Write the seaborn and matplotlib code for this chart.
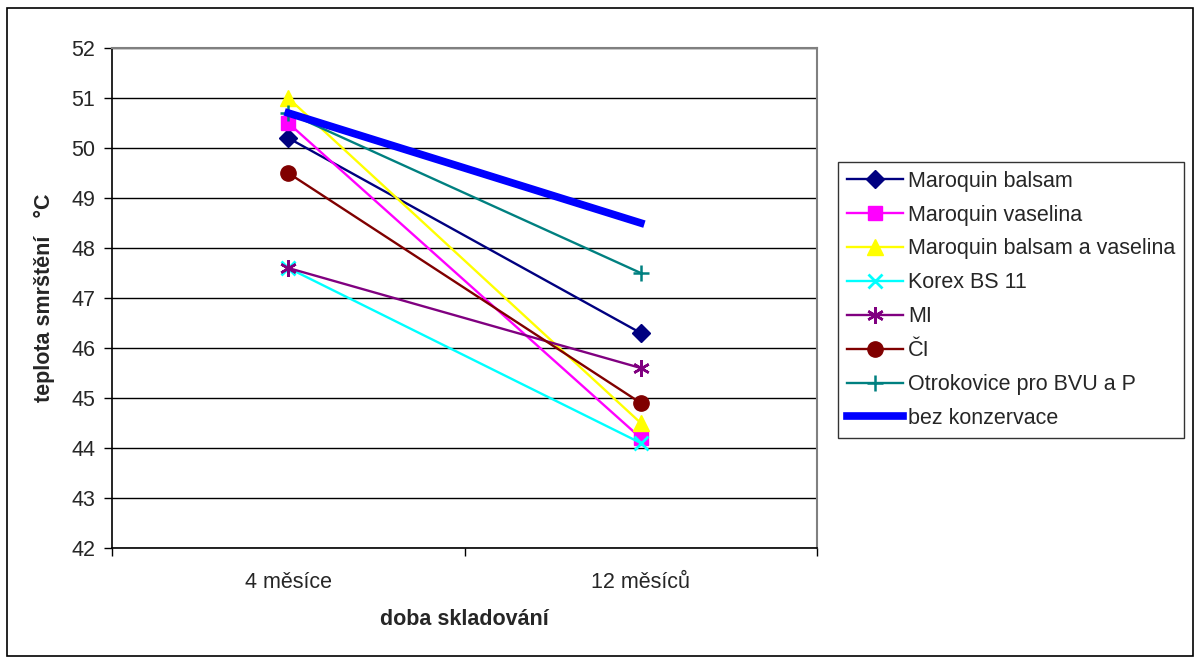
import matplotlib
matplotlib.use("Agg")
import matplotlib.pyplot as plt
from matplotlib.patches import Rectangle
import seaborn as sns
import pandas as pd

sns.set_style("white")
plt.rcParams["font.family"] = ["Liberation Sans", "DejaVu Sans"]

periods = ["4 měsíce", "12 měsíců"]
series_names = [
    "Maroquin balsam",
    "Maroquin vaselina",
    "Maroquin balsam a vaselina",
    "Korex BS 11",
    "MI",
    "ČI",
    "Otrokovice pro BVU a P",
    "bez konzervace",
]
maroquin_balsam = [50.2, 46.3]
maroquin_vaselina = [50.5, 44.2]
maroquin_balsam_vaselina = [51.0, 44.5]
korex_bs11 = [47.6, 44.1]
mi = [47.6, 45.6]
ci = [49.5, 44.9]
otrokovice = [50.7, 47.5]
bez_konzervace = [50.7, 48.5]

values = [maroquin_balsam, maroquin_vaselina, maroquin_balsam_vaselina,
          korex_bs11, mi, ci, otrokovice, bez_konzervace]

styles = [
    dict(color="#000080", marker="D", markersize=9, lw=1.7),
    dict(color="#FF00FF", marker="s", markersize=10, lw=1.7),
    dict(color="#FFFF00", marker="^", markersize=11, lw=1.7),
    dict(color="#00FFFF", marker="x", markersize=10, lw=1.7, mew=2.0),
    dict(color="#800080", marker=(6, 2, 0), markersize=12, lw=1.7, mew=1.8),
    dict(color="#800000", marker="o", markersize=11, lw=1.7),
    dict(color="#008080", marker="+", markersize=12, lw=1.7, mew=1.8),
    dict(color="#0000FF", marker=None, markersize=0, lw=5.5),
]

rows = []
for name, vals in zip(series_names, values):
    for i, v in enumerate(vals):
        rows.append({"serie": name, "pos": i, "teplota": v})
df = pd.DataFrame(rows)

FS = 15.5
W, H = 1195, 657
fig = plt.figure(figsize=(W / 100, H / 100), dpi=100)
ax = fig.add_axes([112 / W, (H - 548) / H, 705 / W, 500 / H])

for name, st in zip(series_names, styles):
    sub = df[df["serie"] == name]
    kw = dict(color=st["color"], linewidth=st["lw"], label=name, ax=ax,
              legend=False, zorder=3, solid_capstyle="projecting")
    if st["marker"] is not None:
        kw.update(marker=st["marker"], markersize=st["markersize"],
                  markeredgecolor=st["color"], markerfacecolor=st["color"],
                  markeredgewidth=st.get("mew", 1.0))
    sns.lineplot(data=sub, x="pos", y="teplota", **kw)

ax.set_xlim(-0.5, 1.5)
ax.set_ylim(42, 52)
ax.set_yticks(range(42, 53))
ax.set_yticklabels([str(v) for v in range(42, 53)], fontsize=FS)
ax.grid(axis="y", color="#000000", linewidth=1.0, zorder=0)
ax.set_axisbelow(True)

ax.set_xticks([-0.5, 0.5, 1.5])
ax.set_xticklabels([])
ax.set_xticks([0, 1], minor=True)
ax.set_xticklabels(periods, minor=True, fontsize=FS)
ax.tick_params(axis="x", which="major", direction="out", length=6, width=1,
               color="#000000", bottom=True)
ax.tick_params(axis="x", which="minor", length=0, pad=17)
ax.tick_params(axis="y", direction="out", length=6, width=1, color="#000000",
               left=True, pad=6)

for side in ["top", "right"]:
    ax.spines[side].set_color("#808080")
    ax.spines[side].set_linewidth(1.5)
for side in ["left", "bottom"]:
    ax.spines[side].set_color("#000000")
    ax.spines[side].set_linewidth(1.2)

ax.set_xlabel("doba skladování", fontsize=FS, fontweight="bold", labelpad=12)
ax.set_ylabel("teplota smrštění   °C", fontsize=FS, fontweight="bold", labelpad=12)

leg = ax.legend(loc="upper left", bbox_to_anchor=(838 / W, (H - 162) / H),
                bbox_transform=fig.transFigure, fontsize=FS, frameon=True,
                fancybox=False, edgecolor="#000000", handlelength=2.6,
                labelspacing=0.6, borderpad=0.4, handletextpad=0.25,
                borderaxespad=0)
leg.get_frame().set_linewidth(1.0)

fig.patches.append(Rectangle((7 / W, 1 / H), (1193 - 7) / W, (H - 9) / H,
                             transform=fig.transFigure, fill=False,
                             edgecolor="#000000", linewidth=1.2))

fig.savefig("out.png", dpi=100)
